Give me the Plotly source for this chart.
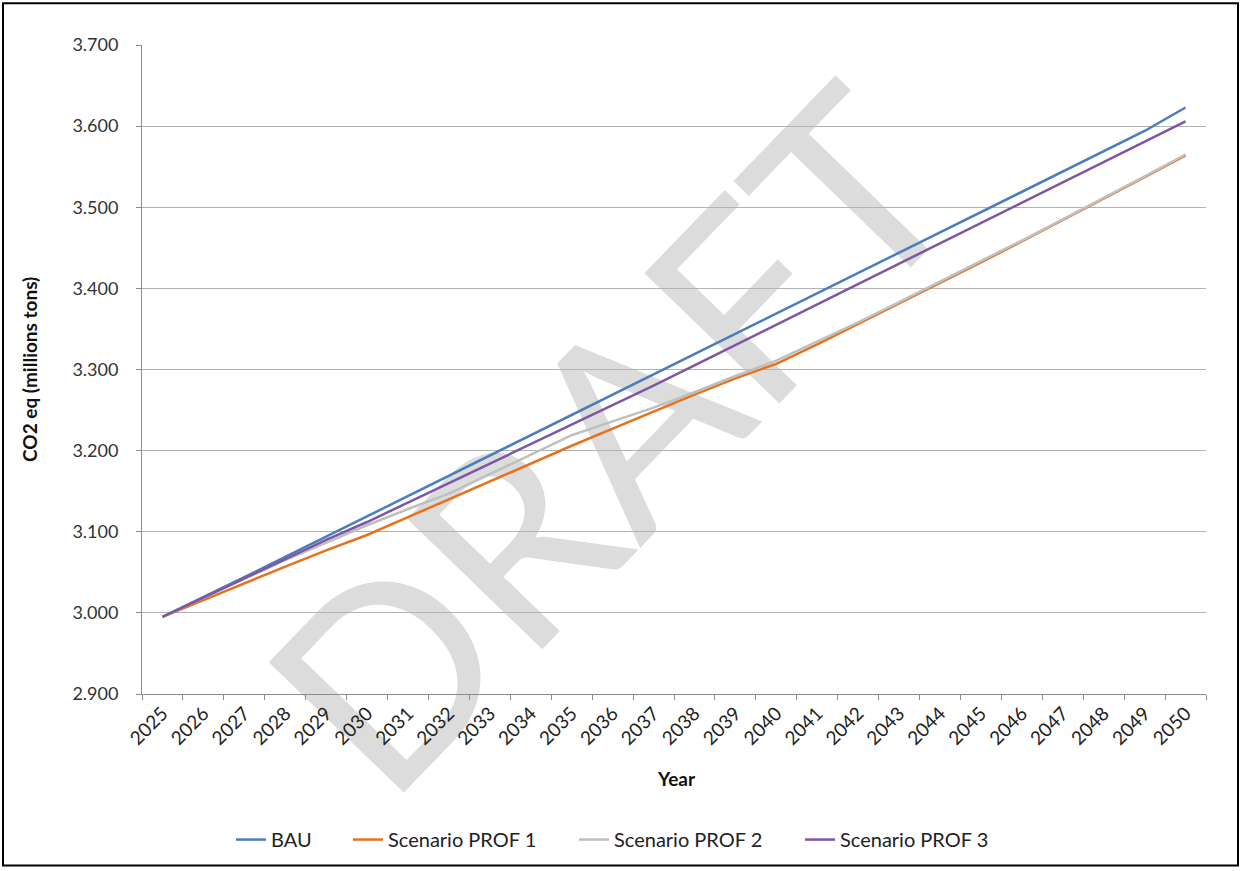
import plotly.graph_objects as go

years = [str(y) for y in range(2025, 2051)]

bau = [2.995, 3.019, 3.044, 3.069, 3.094, 3.119, 3.144, 3.168, 3.193, 3.218,
       3.243, 3.268, 3.293, 3.318, 3.343, 3.368, 3.393, 3.418, 3.443, 3.468,
       3.493, 3.518, 3.543, 3.568, 3.594, 3.623]
prof1 = [2.995, 3.016, 3.037, 3.057, 3.077, 3.096, 3.118, 3.140, 3.162, 3.184,
         3.206, 3.227, 3.248, 3.269, 3.289, 3.307, 3.331, 3.356, 3.381, 3.406,
         3.432, 3.458, 3.484, 3.510, 3.537, 3.564]
prof2 = [2.995, 3.019, 3.042, 3.065, 3.087, 3.108, 3.128, 3.147, 3.171, 3.195,
         3.219, 3.236, 3.253, 3.272, 3.292, 3.311, 3.334, 3.358, 3.383, 3.408,
         3.433, 3.459, 3.485, 3.511, 3.538, 3.565]
prof3 = [2.995, 3.019, 3.043, 3.066, 3.090, 3.112, 3.136, 3.159, 3.183, 3.207,
         3.231, 3.255, 3.280, 3.305, 3.330, 3.355, 3.380, 3.405, 3.430, 3.455,
         3.480, 3.505, 3.530, 3.555, 3.580, 3.606]

series_names = ["BAU", "Scenario PROF 1", "Scenario PROF 2", "Scenario PROF 3"]
series_values = [bau, prof1, prof2, prof3]
series_colors = ["#4a7ebb", "#e8711c", "#bfbfbf", "#7b57a6"]

y_ticks = [2.9, 3.0, 3.1, 3.2, 3.3, 3.4, 3.5, 3.6, 3.7]

FONT = "Lato, 'Open Sans', sans-serif"

W, H = 1241, 871
L, R, T, B = 142, 35, 45, 175
pw, ph = W - L - R, H - T - B

def px_x(p):
    return (p - L) / pw

def px_y(p):
    return (H - B - p) / ph

legend_ids = ["legend", "legend2", "legend3", "legend4"]
legend_px = [231, 348, 574, 800]

fig = go.Figure()
for name, vals, color, lid in zip(series_names, series_values, series_colors, legend_ids):
    fig.add_trace(go.Scatter(
        x=years, y=vals, name=name, mode="lines",
        line=dict(color=color, width=2.5), legend=lid,
    ))

legend_layouts = {}
for lid, lx in zip(legend_ids, legend_px):
    legend_layouts[lid] = dict(
        orientation="h", x=px_x(lx), y=px_y(842),
        xanchor="left", yanchor="middle",
        font=dict(size=20, color="#222222"),
        bgcolor="rgba(0,0,0,0)",
    )

fig.update_layout(
    width=W, height=H,
    margin=dict(l=L, r=R, t=T, b=B),
    paper_bgcolor="white", plot_bgcolor="white",
    font=dict(family=FONT, color="#222222"),
    showlegend=True,
    **legend_layouts,
    xaxis=dict(
        type="category", tickson="boundaries",
        showgrid=False, showline=True, linecolor="#8c8c8c", linewidth=1,
        ticks="outside", ticklen=5, tickcolor="#8c8c8c",
        tickangle=-45, tickfont=dict(size=19, color="#222222"),
        range=[-0.5, 25.5],
    ),
    yaxis=dict(
        range=[2.9, 3.7], tickvals=y_ticks, tickformat=".3f",
        showgrid=True, gridcolor="#b3b3b3", gridwidth=1,
        showline=True, linecolor="#8c8c8c", linewidth=1,
        ticks="outside", ticklen=5, tickcolor="#8c8c8c",
        tickfont=dict(size=18, color="#333333"),
        ticklabelstandoff=14,
        zeroline=False,
    ),
    shapes=[
        dict(type="rect", xref="paper", yref="paper",
             x0=px_x(3), x1=px_x(1238), y0=px_y(868), y1=px_y(3),
             line=dict(color="black", width=2), fillcolor="rgba(0,0,0,0)",
             layer="above"),
        dict(type="rect", xref="paper", yref="paper",
             x0=px_x(575), x1=px_x(635), y0=px_y(465), y1=px_y(405),
             line=dict(width=0), fillcolor="rgba(0,0,0,0)", layer="between",
             label=dict(text="DRAFT", textangle=-46, textposition="middle center",
                        font=dict(size=262, color="#dcdcdc", family=FONT))),
    ],
    annotations=[
        dict(text="<b>CO2 eq (millions tons)</b>", xref="paper", yref="paper",
             x=px_x(30), y=px_y(371), textangle=-90, showarrow=False,
             font=dict(size=19, color="#111111"), xanchor="center", yanchor="middle"),
        dict(text="<b>Year</b>", xref="paper", yref="paper",
             x=px_x(676), y=px_y(781), showarrow=False,
             font=dict(size=19, color="#111111"), xanchor="center", yanchor="middle"),
    ],
)

fig.write_html("out.html", config={"displayModeBar": False},
               post_script="document.body.style.margin='0';document.body.style.overflow='hidden';")
